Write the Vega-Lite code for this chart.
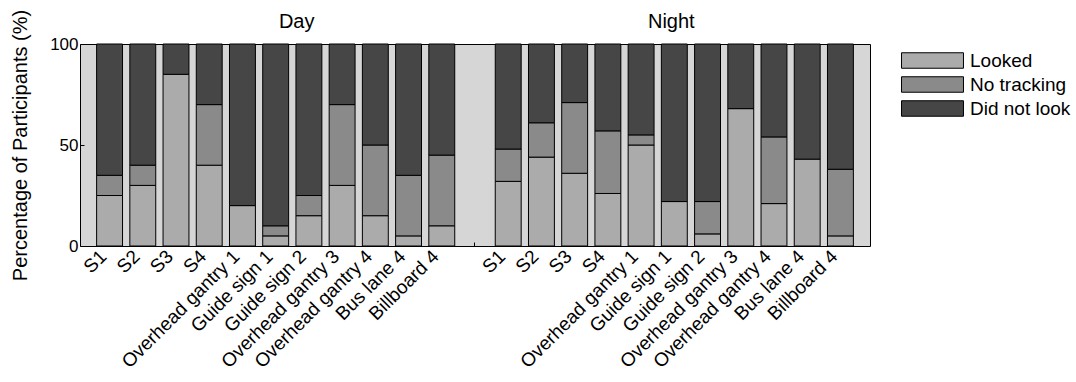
{
  "$schema": "https://vega.github.io/schema/vega-lite/v6.json",
  "width": 790,
  "height": 202,
  "autosize": "none",
  "padding": {"left": 80, "top": 44, "right": 206, "bottom": 136},
  "background": "white",
  "config": {
    "font": "Liberation Sans",
    "view": {"fill": "#d6d6d6", "stroke": "black", "strokeWidth": 1},
    "axis": {"labelFont": "Liberation Sans", "titleFont": "Liberation Sans", "labelColor": "black", "titleColor": "black", "tickColor": "black", "grid": false, "domain": false}
  },
  "layer": [
    {
      "data": {
        "values": [
          {"cond": "Day", "site": "S1", "Looked": 25, "No tracking": 10, "Did not look": 65},
          {"cond": "Day", "site": "S2", "Looked": 30, "No tracking": 10, "Did not look": 60},
          {"cond": "Day", "site": "S3", "Looked": 85, "No tracking": 0, "Did not look": 15},
          {"cond": "Day", "site": "S4", "Looked": 40, "No tracking": 30, "Did not look": 30},
          {"cond": "Day", "site": "Overhead gantry 1", "Looked": 20, "No tracking": 0, "Did not look": 80},
          {"cond": "Day", "site": "Guide sign 1", "Looked": 5, "No tracking": 5, "Did not look": 90},
          {"cond": "Day", "site": "Guide sign 2", "Looked": 15, "No tracking": 10, "Did not look": 75},
          {"cond": "Day", "site": "Overhead gantry 3", "Looked": 30, "No tracking": 40, "Did not look": 30},
          {"cond": "Day", "site": "Overhead gantry 4", "Looked": 15, "No tracking": 35, "Did not look": 50},
          {"cond": "Day", "site": "Bus lane 4", "Looked": 5, "No tracking": 30, "Did not look": 65},
          {"cond": "Day", "site": "Billboard 4", "Looked": 10, "No tracking": 35, "Did not look": 55},
          {"cond": "Night", "site": "S1", "Looked": 32, "No tracking": 16, "Did not look": 52},
          {"cond": "Night", "site": "S2", "Looked": 44, "No tracking": 17, "Did not look": 39},
          {"cond": "Night", "site": "S3", "Looked": 36, "No tracking": 35, "Did not look": 29},
          {"cond": "Night", "site": "S4", "Looked": 26, "No tracking": 31, "Did not look": 43},
          {"cond": "Night", "site": "Overhead gantry 1", "Looked": 50, "No tracking": 5, "Did not look": 45},
          {"cond": "Night", "site": "Guide sign 1", "Looked": 22, "No tracking": 0, "Did not look": 78},
          {"cond": "Night", "site": "Guide sign 2", "Looked": 6, "No tracking": 16, "Did not look": 78},
          {"cond": "Night", "site": "Overhead gantry 3", "Looked": 68, "No tracking": 0, "Did not look": 32},
          {"cond": "Night", "site": "Overhead gantry 4", "Looked": 21, "No tracking": 33, "Did not look": 46},
          {"cond": "Night", "site": "Bus lane 4", "Looked": 43, "No tracking": 0, "Did not look": 57},
          {"cond": "Night", "site": "Billboard 4", "Looked": 5, "No tracking": 33, "Did not look": 62}
        ]
      },
      "transform": [
        {"fold": ["Looked", "No tracking", "Did not look"], "as": ["Response", "Percent"]},
        {"filter": "datum.Percent > 0"},
        {"calculate": "datum.cond + '|' + datum.site", "as": "slot"},
        {"calculate": "indexof(['Looked', 'No tracking', 'Did not look'], datum.Response)", "as": "stackRank"}
      ],
      "mark": {"type": "bar", "stroke": "black", "strokeWidth": 1},
      "encoding": {
        "x": {
          "field": "slot",
          "type": "nominal",
          "scale": {
            "domain": ["Day|S1", "Day|S2", "Day|S3", "Day|S4", "Day|Overhead gantry 1", "Day|Guide sign 1", "Day|Guide sign 2", "Day|Overhead gantry 3", "Day|Overhead gantry 4", "Day|Bus lane 4", "Day|Billboard 4", "gap", "Night|S1", "Night|S2", "Night|S3", "Night|S4", "Night|Overhead gantry 1", "Night|Guide sign 1", "Night|Guide sign 2", "Night|Overhead gantry 3", "Night|Overhead gantry 4", "Night|Bus lane 4", "Night|Billboard 4"],
            "paddingInner": 0.22,
            "paddingOuter": 0.5
          },
          "axis": {
            "title": null,
            "labelExpr": "indexof(datum.label, '|') >= 0 ? split(datum.label, '|')[1] : ''",
            "labelAngle": -45,
            "labelAlign": "right",
            "labelBaseline": "middle",
            "labelFontSize": 19,
            "labelPadding": 11,
            "labelOffset": -6,
            "tickSize": -4,
            "labelOverlap": false
          }
        },
        "y": {
          "field": "Percent",
          "type": "quantitative",
          "stack": "zero",
          "scale": {"domain": [0, 100], "nice": false},
          "axis": {
            "title": "Percentage of Participants (%)",
            "titleFontSize": 20,
            "titleFontWeight": "normal",
            "titlePadding": 19,
            "values": [0, 50, 100],
            "labelFontSize": 17,
            "labelPadding": 6,
            "tickSize": -4
          }
        },
        "color": {
          "field": "Response",
          "type": "nominal",
          "scale": {"domain": ["Looked", "No tracking", "Did not look"], "range": ["#ababab", "#8a8a8a", "#464646"]},
          "legend": {
            "title": null,
            "orient": "none",
            "legendX": 843,
            "legendY": 7,
            "symbolType": "M-4,-1H4V1H-4Z",
            "symbolSize": 240,
            "symbolStrokeColor": "black",
            "symbolStrokeWidth": 1,
            "symbolOpacity": 1,
            "labelFontSize": 19,
            "labelColor": "black",
            "labelOffset": 28,
            "rowPadding": 3
          }
        },
        "order": {"field": "stackRank", "type": "quantitative", "sort": "ascending"}
      }
    },
    {
      "data": {"values": [{"slot": "Day|Guide sign 1", "title": "Day"}]},
      "mark": {"type": "text", "dx": 21, "dy": -22, "fontSize": 20, "color": "black", "baseline": "middle"},
      "encoding": {
        "x": {"field": "slot", "type": "nominal"},
        "y": {"datum": 100},
        "text": {"field": "title"}
      }
    },
    {
      "data": {"values": [{"slot": "Night|Guide sign 1", "title": "Night"}]},
      "mark": {"type": "text", "dx": -3, "dy": -22, "fontSize": 20, "color": "black", "baseline": "middle"},
      "encoding": {
        "x": {"field": "slot", "type": "nominal"},
        "y": {"datum": 100},
        "text": {"field": "title"}
      }
    }
  ]
}
